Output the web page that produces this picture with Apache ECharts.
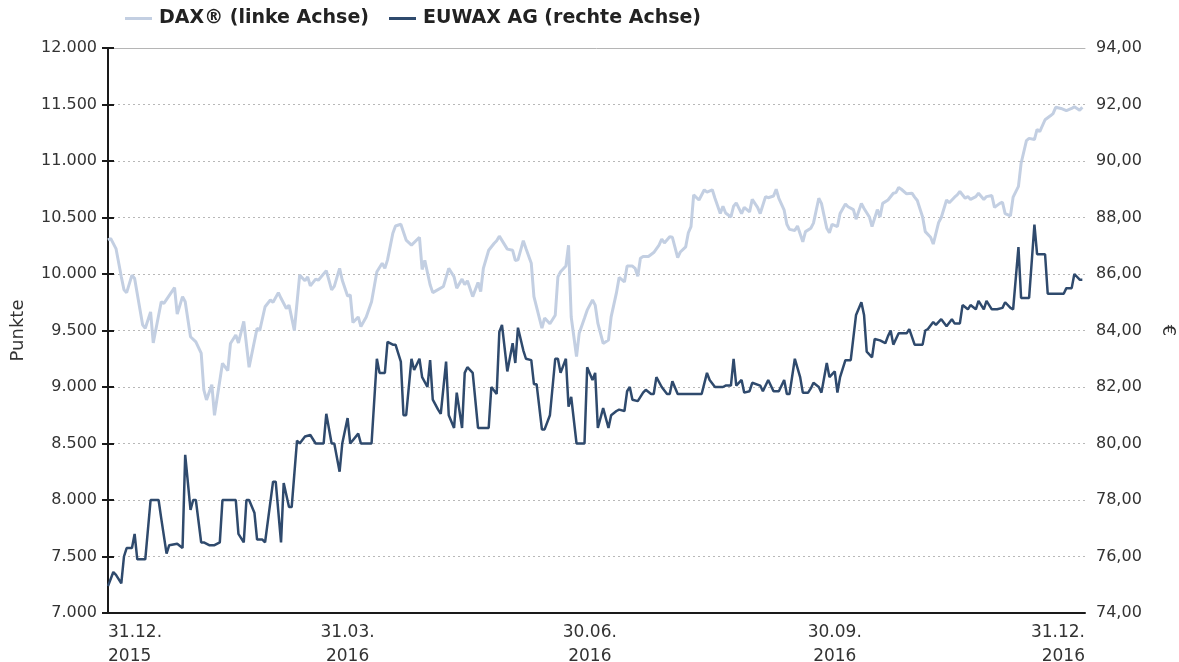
<!DOCTYPE html>
<html>
<head>
<meta charset="utf-8">
<script src="https://cdn.jsdelivr.net/npm/echarts@6/dist/echarts.min.js"></script>
<style>
html, body { margin: 0; padding: 0; background: #fff; }
#chart { width: 1179px; height: 662px; }
</style>
</head>
<body>
<div id="chart"></div>
<script>
// x = days counted from the left edge of the chart (01.01.2016)
var tickDays = [0, 90, 181, 273, 367];
var tickLabels = ['31.12.\n2015', '31.03.\n2016', '30.06.\n2016', '30.09.\n2016', '31.12.\n2016'];

var seriesNames = ['DAX® (linke Achse)', 'EUWAX AG (rechte Achse)'];

// [day, points]
var daxPoints = [
    [0,10300],[1,10315],[3,10225],[5,9975],[6,9860],[7,9835],[9,9990],[10,9960],[13,9550],[14,9520],
    [16,9665],[17,9390],[20,9755],[21,9740],[25,9880],[26,9645],[28,9800],[29,9755],[31,9445],[33,9400],
    [35,9300],[36,8975],[37,8885],[39,9020],[40,8750],[43,9210],[45,9145],[46,9385],[48,9460],[49,9390],
    [51,9580],[53,9175],[56,9520],[57,9500],[59,9710],[61,9770],[62,9750],[64,9835],[65,9785],[67,9695],
    [68,9725],[70,9500],[72,9990],[74,9940],[75,9975],[76,9895],[78,9955],[79,9945],[82,10030],[84,9860],
    [85,9890],[87,10050],[88,9945],[90,9805],[91,9815],[92,9570],[94,9620],[95,9535],[97,9620],[99,9755],
    [101,10020],[103,10095],[104,10050],[105,10125],[107,10360],[108,10425],[110,10440],[112,10300],[114,10255],[117,10325],
    [118,10040],[119,10120],[121,9905],[122,9835],[126,9890],[128,10050],[130,9975],[131,9875],[133,9955],[134,9905],
    [135,9940],[137,9800],[139,9925],[140,9845],[141,10050],[143,10210],[145,10270],[146,10295],[147,10335],[150,10220],
    [152,10210],[153,10120],[154,10125],[156,10295],[157,10225],[159,10095],[160,9800],[163,9520],[164,9610],[166,9560],
    [168,9635],[169,9975],[170,10020],[172,10070],[173,10255],[174,9620],[176,9270],[177,9475],[179,9610],[180,9680],
    [182,9770],[183,9725],[184,9565],[186,9385],[188,9415],[189,9620],[191,9835],[192,9970],[194,9930],[195,10070],
    [197,10070],[198,10050],[199,9980],[200,10140],[201,10155],[203,10155],[205,10190],[207,10255],[208,10310],[209,10275],
    [211,10330],[212,10325],[214,10145],[215,10195],[217,10240],[218,10365],[219,10420],[220,10700],[222,10655],[224,10745],
    [225,10725],[227,10745],[228,10670],[230,10535],[231,10600],[232,10540],[234,10505],[235,10600],[236,10630],[238,10535],
    [239,10590],[241,10550],[242,10660],[244,10590],[245,10535],[247,10685],[248,10675],[250,10690],[251,10750],[252,10670],
    [254,10565],[255,10440],[256,10395],[258,10385],[259,10425],[261,10285],[262,10375],[264,10405],[265,10450],[267,10670],
    [268,10625],[270,10405],[271,10365],[272,10440],[274,10420],[275,10535],[277,10620],[278,10595],[280,10570],[281,10485],
    [283,10625],[284,10580],[286,10505],[287,10420],[289,10570],[290,10505],[291,10625],[293,10655],[295,10715],[296,10720],
    [297,10765],[298,10750],[300,10710],[302,10715],[303,10680],[304,10650],[306,10505],[307,10375],[309,10325],[310,10265],
    [312,10455],[313,10500],[315,10655],[316,10630],[318,10680],[319,10700],[320,10730],[322,10670],[323,10685],[324,10660],
    [326,10685],[327,10715],[329,10660],[330,10685],[332,10695],[333,10590],[335,10625],[336,10635],[337,10535],[339,10515],
    [340,10680],[342,10775],[343,10980],[345,11180],[346,11200],[348,11190],[349,11280],[350,11260],[352,11365],[354,11400],
    [355,11420],[356,11475],[358,11465],[360,11445],[362,11465],[363,11480],[365,11450],[366,11475]
];

// [day, euro]
var euwaxPoints = [
    [0,74.95],[2,75.45],[3,75.35],[5,75.05],[6,76.00],[7,76.30],[9,76.30],[10,76.80],[11,75.90],[14,75.90],
    [16,78.00],[19,78.00],[20,77.35],[22,76.10],[23,76.40],[26,76.45],[28,76.30],[29,79.60],[31,77.65],[32,78.00],
    [33,78.00],[35,76.50],[36,76.50],[38,76.40],[40,76.40],[42,76.50],[43,78.00],[48,78.00],[49,76.80],[51,76.50],
    [52,78.00],[53,78.00],[55,77.55],[56,76.60],[58,76.60],[59,76.50],[62,78.65],[63,78.65],[65,76.50],[66,78.60],
    [68,77.75],[69,77.75],[71,80.10],[72,80.00],[74,80.25],[76,80.30],[78,80.00],[81,80.00],[82,81.05],[84,80.00],
    [85,80.00],[87,79.00],[88,80.00],[90,80.90],[91,80.00],[94,80.35],[95,80.00],[99,80.00],[101,83.00],[102,82.50],
    [104,82.50],[105,83.60],[107,83.50],[108,83.50],[110,82.90],[111,81.00],[112,81.00],[114,83.00],[115,82.60],[117,83.00],
    [118,82.35],[120,82.00],[121,82.95],[122,81.55],[124,81.20],[125,81.05],[127,82.90],[128,81.00],[130,80.55],[131,81.80],
    [133,80.55],[134,82.50],[135,82.70],[137,82.50],[139,80.55],[143,80.55],[144,82.00],[146,81.75],[147,83.95],[148,84.20],
    [150,82.55],[152,83.55],[153,82.85],[154,84.10],[156,83.30],[157,83.00],[159,82.95],[160,82.10],[161,82.10],[163,80.50],
    [164,80.50],[166,81.00],[168,83.00],[169,83.00],[170,82.50],[172,83.00],[173,81.30],[174,81.65],[176,80.00],[179,80.00],
    [180,82.70],[182,82.25],[183,82.50],[184,80.55],[186,81.25],[188,80.55],[189,81.00],[191,81.15],[192,81.20],[194,81.15],
    [195,81.85],[196,82.00],[197,81.55],[199,81.50],[201,81.80],[202,81.90],[204,81.75],[205,81.75],[206,82.35],[208,82.00],
    [210,81.75],[211,81.75],[212,82.20],[214,81.75],[223,81.75],[225,82.50],[226,82.25],[228,82.00],[231,82.00],[232,82.05],
    [234,82.05],[235,83.00],[236,82.05],[238,82.25],[239,81.80],[241,81.85],[242,82.15],[245,82.05],[246,81.85],[248,82.25],
    [250,81.85],[252,81.85],[254,82.25],[255,81.75],[256,81.75],[258,83.00],[260,82.35],[261,81.80],[263,81.80],[264,81.95],
    [265,82.15],[267,82.00],[268,81.80],[270,82.85],[271,82.35],[273,82.55],[274,81.80],[275,82.35],[277,82.95],[279,82.95],
    [281,84.55],[283,85.00],[284,84.55],[285,83.25],[287,83.05],[288,83.70],[290,83.65],[292,83.55],[293,83.80],[294,84.00],
    [295,83.50],[297,83.90],[300,83.90],[301,84.05],[303,83.50],[306,83.50],[307,84.00],[308,84.05],[310,84.30],[311,84.20],
    [313,84.40],[315,84.15],[317,84.40],[318,84.25],[320,84.25],[321,84.90],[323,84.75],[324,84.90],[326,84.75],[327,85.05],
    [329,84.75],[330,85.05],[332,84.75],[334,84.75],[336,84.80],[337,85.00],[339,84.80],[340,84.75],[342,86.95],[343,85.15],
    [346,85.15],[348,87.75],[349,86.70],[352,86.70],[353,85.30],[359,85.30],[360,85.50],[362,85.50],[363,86.00],[365,85.80],
    [366,85.80]
];

var font = 'DejaVu Sans, Verdana, sans-serif';
var axisColor = '#1a1a1a';
var labelColor = '#333333';

function formatPoints(v) {
    return String(v).replace(/\B(?=(\d{3})+(?!\d))/g, '.');
}

function formatEuro(v) {
    return v.toFixed(2).replace('.', ',');
}

function formatDay(v) {
    var i = tickDays.indexOf(Math.round(v));
    return i < 0 ? '' : tickLabels[i];
}

var myChart = echarts.init(document.getElementById('chart'));

var option = {
    animation: false,
    textStyle: { fontFamily: font },
    legend: {
        left: 120,
        top: 4,
        icon: 'rect',
        itemWidth: 27,
        itemHeight: 3,
        itemGap: 20,
        textStyle: {
            fontFamily: font,
            fontSize: 19,
            fontWeight: 'bold',
            color: '#222222',
            padding: [0, 0, 0, 2]
        },
        data: seriesNames
    },
    grid: { left: 108, right: 94, top: 48, bottom: 49, outerBoundsMode: 'none', containLabel: false },
    xAxis: [{
        type: 'value',
        min: 0,
        max: 367,
        axisLine: { lineStyle: { color: axisColor, width: 2 } },
        axisTick: { show: false },
        splitLine: { show: false },
        axisLabel: {
            customValues: tickDays,
            formatter: formatDay,
            fontFamily: font,
            fontSize: 17,
            lineHeight: 24,
            color: labelColor,
            margin: 8,
            showMinLabel: true,
            showMaxLabel: true,
            alignMinLabel: 'left',
            alignMaxLabel: 'right'
        }
    }, {
        type: 'value',
        position: 'top',
        min: 0,
        max: 367,
        axisLine: { lineStyle: { color: '#b5b5b5', width: 1 } },
        axisTick: { show: false },
        axisLabel: { show: false },
        splitLine: { show: false }
    }],
    yAxis: [{
        type: 'value',
        min: 7000,
        max: 12000,
        interval: 500,
        name: 'Punkte',
        nameLocation: 'middle',
        nameGap: 81,
        nameTextStyle: { fontFamily: font, fontSize: 18, color: labelColor },
        axisLine: { show: true, lineStyle: { color: axisColor, width: 2 } },
        axisTick: { show: true, length: 6, lineStyle: { color: axisColor, width: 2 } },
        axisLabel: { fontFamily: font, fontSize: 16, color: labelColor, margin: 11, formatter: formatPoints },
        splitLine: { show: true, lineStyle: { type: [2, 3], color: '#b8b8b8', width: 1 } }
    }, {
        type: 'value',
        position: 'right',
        min: 74,
        max: 94,
        interval: 2,
        name: '€',
        nameLocation: 'middle',
        nameRotate: -90,
        nameGap: 74,
        nameTextStyle: { fontFamily: font, fontSize: 18, color: labelColor },
        axisLine: { show: true, lineStyle: { color: axisColor, width: 2 } },
        axisTick: { show: true, length: 6, lineStyle: { color: axisColor, width: 2 } },
        axisLabel: { fontFamily: font, fontSize: 16, color: labelColor, margin: 11, formatter: formatEuro },
        splitLine: { show: false }
    }],
    series: [{
        name: seriesNames[0],
        type: 'line',
        yAxisIndex: 0,
        data: daxPoints,
        showSymbol: false,
        symbol: 'none',
        lineStyle: { color: '#c3cfe2', width: 3 },
        itemStyle: { color: '#c3cfe2' },
        z: 2
    }, {
        name: seriesNames[1],
        type: 'line',
        yAxisIndex: 1,
        data: euwaxPoints,
        showSymbol: false,
        symbol: 'none',
        lineStyle: { color: '#2f4a6d', width: 2.5 },
        itemStyle: { color: '#2f4a6d' },
        z: 3
    }]
};

myChart.setOption(option);

window.onresize = function () {
    myChart.resize();
};
</script>
</body>
</html>
